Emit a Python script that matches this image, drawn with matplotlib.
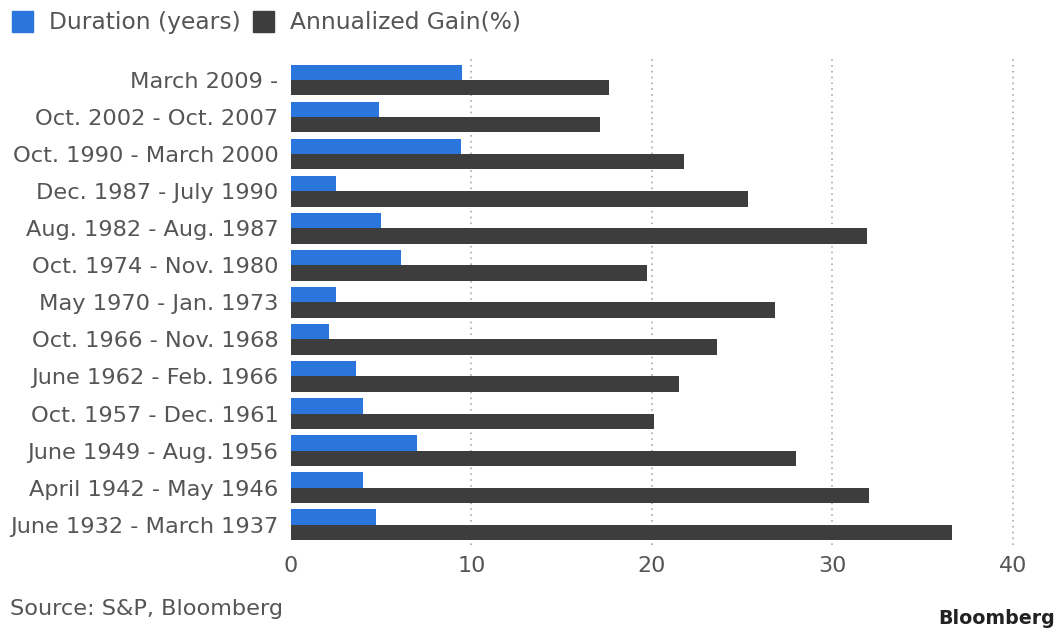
import numpy as np
import matplotlib
matplotlib.use("Agg")
import matplotlib.pyplot as plt
from matplotlib.patches import Rectangle

periods = ['March 2009 -', 'Oct. 2002 - Oct. 2007', 'Oct. 1990 - March 2000',
           'Dec. 1987 - July 1990', 'Aug. 1982 - Aug. 1987', 'Oct. 1974 - Nov. 1980',
           'May 1970 - Jan. 1973', 'Oct. 1966 - Nov. 1968', 'June 1962 - Feb. 1966',
           'Oct. 1957 - Dec. 1961', 'June 1949 - Aug. 1956', 'April 1942 - May 1946',
           'June 1932 - March 1937']
duration = [9.5, 4.9, 9.4, 2.5, 5.0, 6.1, 2.5, 2.1, 3.6, 4.0, 7.0, 4.0, 4.7]
gain = [17.6, 17.1, 21.8, 25.3, 31.9, 19.7, 26.8, 23.6, 21.5, 20.1, 28.0, 32.0, 36.6]
xticks = [0, 10, 20, 30, 40]

blue = '#2a76dd'
dark = '#3d3d3d'
txt = '#555555'

fig = plt.figure(figsize=(10.63, 6.31), dpi=100)
ax = fig.add_axes([291/1063, 1 - 545/631, (1040-291)/1063, (545-58)/631])

y = np.arange(len(periods))
h = 0.41
ax.barh(y - h/2, duration, height=h, color=blue, zorder=3)
ax.barh(y + h/2, gain, height=h, color=dark, zorder=3)

ax.set_xlim(0, 41.5)
ax.set_ylim(len(periods) - 0.45, -0.6)
ax.set_xticks(xticks)
ax.set_xticklabels([str(t) for t in xticks])
ax.set_yticks(y)
ax.set_yticklabels(periods)

for t in xticks[1:]:
    ax.axvline(t, color='#aaaaaa', linestyle=(0, (1, 2.5)), linewidth=1.2, zorder=1)

for s in ax.spines.values():
    s.set_visible(False)
ax.tick_params(axis='both', length=0, labelcolor=txt)
ax.tick_params(axis='y', pad=9, labelsize=16.2)
ax.tick_params(axis='x', pad=8, labelsize=16)

# legend
fig.patches.append(Rectangle((12/1063, 1 - 32/631), 21/1063, 21/631,
                             transform=fig.transFigure, color=blue))
fig.text(49/1063, 1 - 22/631, 'Duration (years)', fontsize=16.8, color=txt, va='center')
fig.patches.append(Rectangle((253/1063, 1 - 32/631), 21/1063, 21/631,
                             transform=fig.transFigure, color=dark))
fig.text(290/1063, 1 - 22/631, 'Annualized Gain(%)', fontsize=16.8, color=txt, va='center')

fig.text(10/1063, 1 - 609/631, 'Source: S&P, Bloomberg', fontsize=16.1, color=txt, va='center')
fig.text(1055/1063, 1 - 618/631, 'Bloomberg', fontsize=13.7, color='#222222',
         fontweight='bold', ha='right', va='center')

fig.savefig('out.png', dpi=100)
